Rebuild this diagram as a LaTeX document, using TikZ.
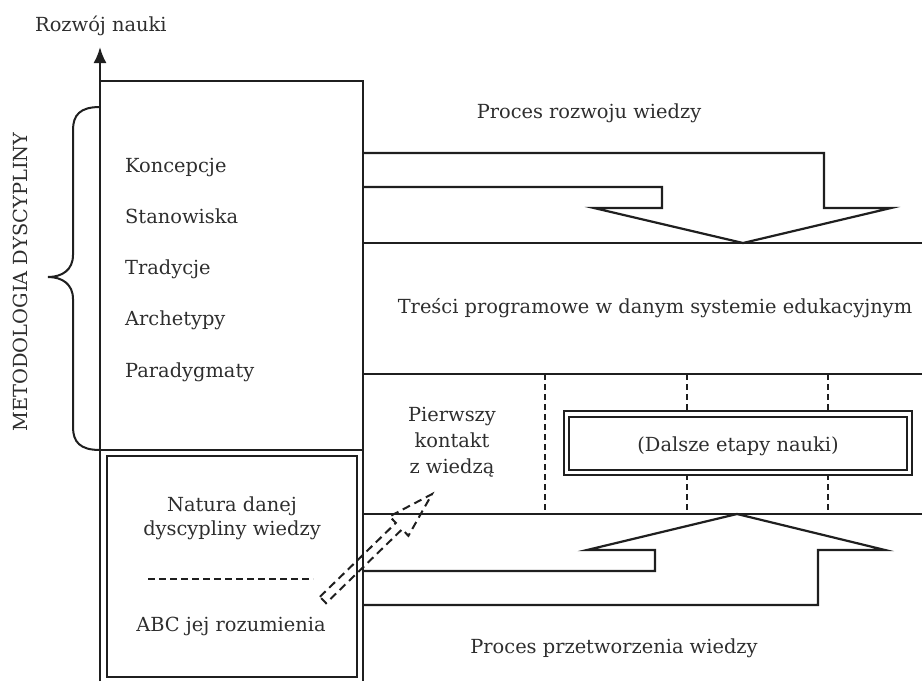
\documentclass[tikz,border=0pt]{standalone}
\usepackage{fontspec}
\setmainfont{DejaVu Serif}
\usetikzlibrary{arrows.meta}
\begin{document}
\begin{tikzpicture}[x=1pt,y=-1pt,
  ln/.style={line width=2.2pt, draw=black!88, line join=miter},
  thin/.style={line width=1.8pt, draw=black!88},
  dsh/.style={line width=1.8pt, draw=black!88, dash pattern=on 7pt off 4pt},
  txt/.style={font=\fontsize{19.4}{23}\selectfont, text=black!82, inner sep=0pt},
  lbl/.style={txt, anchor=base west},
  ctr/.style={txt, anchor=base}]
\useasboundingbox (0,0) rectangle (922,681);

% axis
\coordinate (axb) at (100,681);
\coordinate (axt) at (100,47);
\draw[ln, -{Latex[length=16pt,width=13pt]}] (axb) -- (axt);
\node[txt, anchor=base west] (rozwoj) at (35,31) {Rozwój nauki};

% upper box
\draw[ln] (100,81) -- (363,81) -- (363,681);
\draw[ln] (100,450) -- (363,450);
\node[lbl] (k1) at (125,172) {Koncepcje};
\node[lbl] (k2) at (125,223) {Stanowiska};
\node[lbl] (k3) at (125,274) {Tradycje};
\node[lbl] (k4) at (125,325) {Archetypy};
\node[lbl] (k5) at (125,377) {Paradygmaty};

% brace
\draw[ln, line width=2pt] (100,107) .. controls (80,107) and (73,115) .. (73,130)
  -- (73,255) .. controls (73,270) and (62,277) .. (48,277)
  .. controls (62,277) and (73,284) .. (73,299)
  -- (73,427) .. controls (73,442) and (80,450) .. (100,450);
\node[txt, rotate=90] (metod) at (20,282) {METODOLOGIA DYSCYPLINY};

% inner lower box
\draw[thin] (107,456) rectangle (357,677);
\node[ctr] (n1) at (232,511) {Natura danej};
\node[ctr] (n2) at (232,535) {dyscypliny wiedzy};
\draw[dsh] (148,579) -- (313,579);
\node[ctr] (n3) at (231,631) {ABC jej rozumienia};

% top arrow (Proces rozwoju wiedzy)
\node[ctr] (proc1) at (589,118) {Proces rozwoju wiedzy};
\draw[ln] (363,153) -- (824,153) -- (824,208) -- (891,208) -- (743,243)
  -- (594,208) -- (662,208) -- (662,187) -- (363,187);
\draw[ln] (363,243) -- (922,243);
\node[ctr] (tresci) at (655,313) {Treści programowe w danym systemie edukacyjnym};

% middle band
\draw[ln] (363,374) -- (922,374);
\draw[ln] (363,514) -- (922,514);
\foreach \xx in {545,687,828}
  \draw[dsh, line width=1.6pt, dash pattern=on 6pt off 4pt] (\xx,374) -- (\xx,514);
\node[ctr] (p1) at (452,421) {Pierwszy};
\node[ctr] (p2) at (452,447) {kontakt};
\node[ctr] (p3) at (452,473) {z wiedzą};

% double box
\draw[line width=1.9pt, draw=black!88, fill=white] (564,411) rectangle (912,475);
\draw[line width=1.9pt, draw=black!88] (569,417) rectangle (907,470);
\node[ctr] (dalsze) at (738,451) {(Dalsze etapy nauki)};

% bottom arrow (Proces przetworzenia wiedzy)
\draw[ln] (363,571) -- (655,571) -- (655,550) -- (587,550) -- (737,514)
  -- (885,550) -- (818,550) -- (818,605) -- (363,605);
\node[ctr] (proc2) at (614,653) {Proces przetworzenia wiedzy};

% dashed hollow arrow
\draw[dsh, line width=2pt, dash pattern=on 8pt off 5pt, line join=miter]
  (319.9,596.8) -- (395.9,522.9) -- (389.6,516.4) -- (432,494.1)
  -- (408.4,535.8) -- (402.1,529.3) -- (326.1,603.2) -- cycle;
\end{tikzpicture}
\end{document}
